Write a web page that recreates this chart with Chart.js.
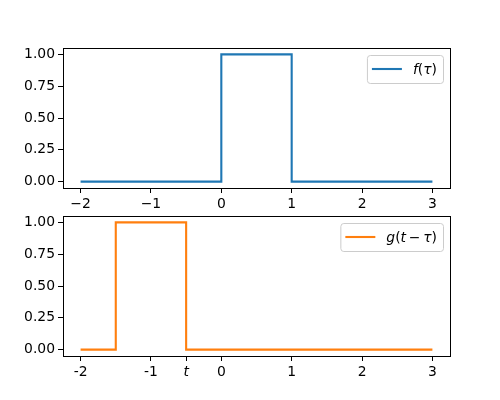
<!DOCTYPE html>
<html>
<head>
<meta charset="utf-8">
<script src="https://cdn.jsdelivr.net/npm/chart.js@4"></script>
<style>
  html, body { margin: 0; padding: 0; background: #fff; }
  #wrap { position: relative; width: 500px; height: 400px; }
  #c1 { position: absolute; left: 0; top: 0; }
  #c2 { position: absolute; left: 0; top: 196px; }
</style>
</head>
<body>
<div id="wrap">
  <div id="c1" style="width:500px;height:212px"><canvas id="top"></canvas></div>
  <div id="c2" style="width:500px;height:204px"><canvas id="bottom"></canvas></div>
</div>
<script>
// f(tau): box on [0, 1]
const fTau = [-2, 0, 0, 1, 1, 3];
const fVal = [0, 0, 1, 1, 0, 0];
// g(t - tau): box on [-1.5, t], t = -0.5
const gTau = [-2, -1.5, -1.5, -0.5, -0.5, 3];
const gVal = [0, 0, 1, 1, 0, 0];

const topTicks = [-2, -1, 0, 1, 2, 3];
const topTickLabels = ['\u22122', '\u22121', '0', '1', '2', '3'];
const bottomTicks = [-2, -1, -0.5, 0, 1, 2, 3];
const bottomTickLabels = ['-2', '-1', 't', '0', '1', '2', '3'];
const yTicks = [0, 0.25, 0.5, 0.75, 1];

const FONT = 'DejaVu Sans';
const FS = 13.9;

function points(xs, ys) {
  return xs.map((x, i) => ({ x: x, y: ys[i] }));
}

// full axes frame, like matplotlib spines
const framePlugin = {
  id: 'frame',
  afterDraw(chart) {
    const a = chart.chartArea, ctx = chart.ctx;
    ctx.save();
    ctx.strokeStyle = '#000';
    ctx.lineWidth = 1;
    ctx.strokeRect(Math.round(a.left) + 0.5, Math.round(a.top) + 0.5,
      Math.round(a.right - a.left), Math.round(a.bottom - a.top));
    ctx.restore();
  }
};

// legend drawn inside the axes, upper right
function drawMath(ctx, text, x, y, measureOnly) {
  let w = 0;
  for (const ch of text) {
    const italic = /[a-zτ]/.test(ch);
    ctx.font = (italic ? 'italic ' : '') + FS + 'px "' + FONT + '"';
    if (!measureOnly) ctx.fillText(ch, x + w, y);
    w += ctx.measureText(ch).width;
  }
  return w;
}

const insideLegend = {
  id: 'insideLegend',
  afterDraw(chart) {
    const ctx = chart.ctx, a = chart.chartArea;
    const ds = chart.data.datasets[0];
    ctx.save();
    ctx.textBaseline = 'middle';
    const tw = drawMath(ctx, ds.label, 0, 0, true);
    const w = 5 + 30 + 11 + tw + 6;
    const h = 28;
    const x0 = a.right - 7 - w, y0 = a.top + 7;
    ctx.beginPath();
    ctx.roundRect(x0 + 0.5, y0 + 0.5, w, h, 3);
    ctx.fillStyle = 'rgba(255,255,255,0.8)';
    ctx.fill();
    ctx.strokeStyle = '#cccccc';
    ctx.lineWidth = 1;
    ctx.stroke();
    const cy = y0 + h / 2;
    ctx.beginPath();
    ctx.moveTo(x0 + 5, cy);
    ctx.lineTo(x0 + 35, cy);
    ctx.strokeStyle = ds.borderColor;
    ctx.lineWidth = 2.1;
    ctx.stroke();
    ctx.fillStyle = '#000';
    drawMath(ctx, ds.label, x0 + 46, cy + 1, false);
    ctx.restore();
  }
};

function makeChart(id, xs, ys, label, color, xTicks, xLabels, padTop, xAxisH) {
  const ctx = document.getElementById(id).getContext('2d');
  return new Chart(ctx, {
    type: 'line',
    data: {
      datasets: [{
        label: label,
        data: points(xs, ys),
        borderColor: color,
        backgroundColor: 'transparent',
        borderWidth: 2.1,
        pointRadius: 0,
        tension: 0
      }]
    },
    options: {
      responsive: true,
      maintainAspectRatio: false,
      animation: false,
      layout: { padding: { top: padTop, right: 50, left: 0, bottom: 0 } },
      plugins: { legend: { display: false }, tooltip: { enabled: false } },
      scales: {
        x: {
          type: 'linear',
          min: -2.25,
          max: 3.25,
          afterBuildTicks: s => { s.ticks = xTicks.map(v => ({ value: v })); },
          afterFit: s => { s.height = xAxisH; },
          grid: { display: true, drawOnChartArea: false, drawTicks: true, tickLength: 5, color: '#000', tickWidth: 1 },
          border: { display: false },
          ticks: {
            color: '#000',
            padding: 3,
            maxRotation: 0,
            autoSkip: false,
            font: c => ({ family: FONT, size: FS, style: (c.tick && xLabels[xTicks.indexOf(c.tick.value)] === 't') ? 'italic' : 'normal' }),
            callback: v => xLabels[xTicks.indexOf(v)]
          }
        },
        y: {
          min: -0.05,
          max: 1.05,
          afterBuildTicks: s => { s.ticks = yTicks.map(v => ({ value: v })); },
          afterFit: s => { s.width = 63; },
          grid: { display: true, drawOnChartArea: false, drawTicks: true, tickLength: 5, color: '#000', tickWidth: 1 },
          border: { display: false },
          ticks: {
            color: '#000',
            padding: 3,
            font: { family: FONT, size: FS },
            callback: v => v.toFixed(2)
          }
        }
      }
    },
    plugins: [framePlugin, insideLegend]
  });
}

makeChart('top', fTau, fVal, 'f(τ)', '#1f77b4', topTicks, topTickLabels, 48, 24);
makeChart('bottom', gTau, gVal, 'g(t\u2009\u2212\u2009τ)', '#ff7f0e', bottomTicks, bottomTickLabels, 20, 44);
</script>
</body>
</html>
